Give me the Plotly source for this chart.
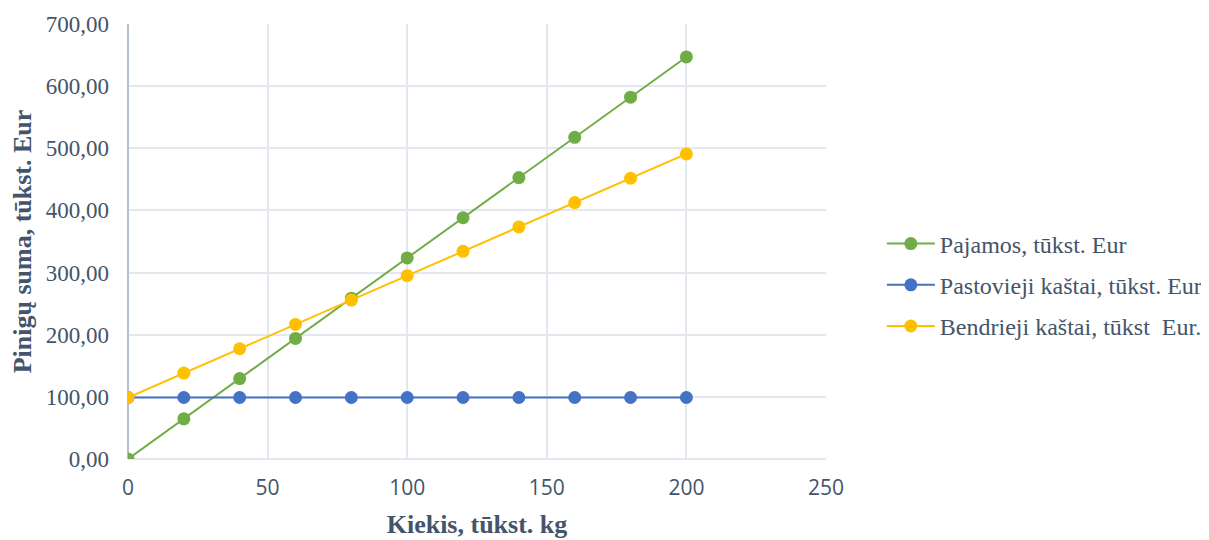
import plotly.graph_objects as go

kiekis = [0, 20, 40, 60, 80, 100, 120, 140, 160, 180, 200]
pajamos = [0, 64.7, 129.4, 194.1, 258.8, 323.5, 388.2, 452.9, 517.6, 582.3, 647.0]
pastovieji = [99, 99, 99, 99, 99, 99, 99, 99, 99, 99, 99]
bendrieji = [99, 138.2, 177.4, 216.6, 255.8, 295.0, 334.2, 373.4, 412.6, 451.8, 491.0]

names = ["Pajamos, tūkst. Eur", "Pastovieji kaštai, tūkst. Eur", "Bendrieji kaštai, tūkst  Eur."]
colors = ["#70AD47", "#4472C4", "#FFC000"]
series = [pajamos, pastovieji, bendrieji]

fig = go.Figure()
for i, (n, c, s) in enumerate(zip(names, colors, series)):
    fig.add_trace(go.Scatter(x=kiekis, y=s, name=n, mode="lines+markers",
                             legendgroup=f"g{i}",
                             line=dict(color=c, width=2),
                             marker=dict(color=c, size=13)))

serif = "Liberation Serif, Times New Roman, serif"
fig.update_layout(
    template="plotly_white",
    width=1209, height=540,
    margin=dict(l=120, r=391, t=16, b=89, autoexpand=False),
    font=dict(color="#44546A"),
    legend=dict(x=1.08, y=0.40, yanchor="middle", xanchor="left",
                font=dict(family=serif, size=24, color="#44546A"),
                tracegroupgap=7, itemwidth=48),
    xaxis=dict(range=[0, 250], dtick=50, tick0=0, automargin=False,
               gridcolor="#E3E8F0", gridwidth=2,
               zeroline=True, zerolinecolor="#B4BFD0", zerolinewidth=2,
               ticklabelstandoff=14,
               tickfont=dict(family="Open Sans, sans-serif", size=21),
               title=dict(text="<b>Kiekis, tūkst. kg</b>", font=dict(family=serif, size=26), standoff=14)),
    yaxis=dict(range=[0, 700], dtick=100, tickformat=".2f", automargin=False,
               gridcolor="#E3E8F0", gridwidth=2,
               zeroline=True, zerolinecolor="#E3E8F0", zerolinewidth=2,
               ticklabelstandoff=18,
               tickfont=dict(family=serif, size=23),
               title=dict(text="<b>Pinigų suma, tūkst. Eur</b>", font=dict(family=serif, size=26), standoff=14)),
    separators=", ",
)
fig.write_html("out.html")
